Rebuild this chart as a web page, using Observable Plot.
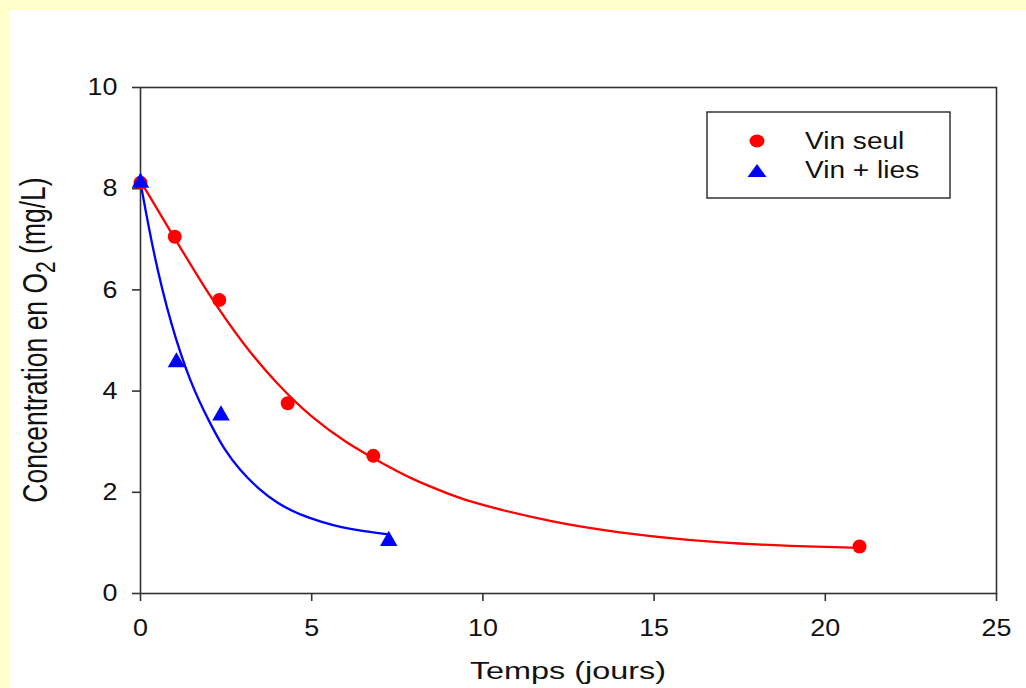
<!DOCTYPE html>
<html><head><meta charset="utf-8">
<script src="https://cdn.jsdelivr.net/npm/d3@7"></script>
<script src="https://cdn.jsdelivr.net/npm/@observablehq/plot@0.6"></script>
<style>
html,body{margin:0;padding:0;background:#FFFFCC;width:1026px;height:688px;overflow:hidden;}
#panel{position:absolute;left:9px;top:10px;width:1017px;height:678px;background:#fff;}
#chart{position:absolute;left:0;top:0;}
</style></head><body><div id="panel"></div><div id="chart"></div>
<script>
const xTicks = [0, 5, 10, 15, 20, 25];
const yTicks = [0, 2, 4, 6, 8, 10];
const series = ["Vin seul", "Vin + lies"];
const colors = ["#ff0000", "#0000ff"];
const xTitle = "Temps (jours)";

// measured points
const seulDays = [0, 1, 2.3, 4.3, 6.8, 21];
const seulO2 = [8.12, 7.05, 5.8, 3.76, 2.72, 0.93];
const liesDays = [0, 1.05, 2.35, 7.25];
const liesO2 = [8.12, 4.57, 3.52, 1.04];

// fitted curves
const seulFitDays = [0, 1, 2, 3, 4, 5, 6, 7, 8, 9, 10, 12, 14, 16, 18, 20, 21];
const seulFitO2 = [8.15, 7.02, 5.92, 4.95, 4.15, 3.5, 3.0, 2.6, 2.25, 1.97, 1.75, 1.43, 1.21, 1.06, 0.97, 0.92, 0.9];
const liesFitDays = [0, 0.39, 0.88, 1.46, 2.04, 2.43, 2.92, 3.41, 3.99, 4.67, 5.35, 5.84, 6.52, 7.25];
const liesFitO2 = [8.12, 6.68, 5.33, 4.15, 3.35, 2.86, 2.42, 2.09, 1.78, 1.55, 1.4, 1.31, 1.23, 1.17];

const zip = (a, b) => a.map((t, i) => ({t, o2: b[i]}));
const seul = zip(seulDays, seulO2);
const lies = zip(liesDays, liesO2);
const seulFit = zip(seulFitDays, seulFitO2);
const liesFit = zip(liesFitDays, liesFitO2);

const plot = Plot.plot({
  width: 1026, height: 688,
  marginLeft: 140, marginRight: 30, marginTop: 87, marginBottom: 95,
  style: {background: "transparent", fontFamily: "'Liberation Sans', Arial, sans-serif", fontSize: "24px", color: "#111"},
  x: {domain: [0, 25]},
  y: {domain: [0, 10]},
  marks: [
    Plot.frame({stroke: "#333", strokeWidth: 1.6}),
    Plot.axisX({ticks: xTicks, tickSize: 8, tickPadding: 17, label: null, strokeWidth: 1.6, stroke: "#333", fontSize: 24}),
    Plot.axisY({ticks: yTicks, tickSize: 8, tickPadding: 15, label: null, strokeWidth: 1.6, stroke: "#333", fontSize: 24}),
    Plot.line(seulFit, {x: "t", y: "o2", stroke: colors[0], strokeWidth: 2.3, curve: "natural"}),
    Plot.line(liesFit, {x: "t", y: "o2", stroke: colors[1], strokeWidth: 2.3, curve: "basis"}),
    Plot.dot(seul, {x: "t", y: "o2", r: 7, fill: colors[0], symbol: "circle"}),
    Plot.dot(lies, {x: "t", y: "o2", r: 6.5, fill: colors[1], symbol: "triangle"})
  ]
});
document.getElementById("chart").appendChild(plot);

const svg = d3.select(plot);
const font = "'Liberation Sans', Arial, sans-serif";

// slightly widen tick labels like the reference
svg.selectAll('g[aria-label$="tick label"] text').each(function () {
  const t = this.getAttribute("transform") || "";
  this.setAttribute("transform", t + " scale(1.12,1)");
});

// Y title with subscript
const yt = svg.append("text")
  .attr("transform", "translate(47,340) scale(1.3,1) rotate(-90)")
  .attr("text-anchor", "middle")
  .attr("font-family", font).attr("font-size", 26.5).attr("fill", "#111");
yt.append("tspan").text("Concentration en O");
yt.append("tspan").attr("font-size", 21).attr("dy", "0.3em").text("2");
yt.append("tspan").attr("dy", "-0.3em").text(" (mg/L)");

// X title
svg.append("text")
  .attr("transform", "translate(568,679) scale(1.35,1)")
  .attr("text-anchor", "middle")
  .attr("font-family", font).attr("font-size", 24).attr("fill", "#111")
  .text(xTitle);

// Legend
const lg = svg.append("g");
lg.append("rect").attr("x", 707).attr("y", 112).attr("width", 243).attr("height", 86)
  .attr("fill", "#fff").attr("stroke", "#333").attr("stroke-width", 1.5);
lg.append("ellipse").attr("cx", 757).attr("cy", 141).attr("rx", 7.5).attr("ry", 6.5).attr("fill", colors[0]);
lg.append("path").attr("d", "M747.5,177L766.5,177L757,164Z").attr("fill", colors[1]);
[149, 178].forEach((yy, i) => {
  lg.append("text")
    .attr("transform", `translate(805,${yy}) scale(1.17,1)`)
    .attr("text-anchor", "start")
    .attr("font-family", font).attr("font-size", 24).attr("fill", "#111")
    .text(series[i]);
});
</script>
</body></html>
